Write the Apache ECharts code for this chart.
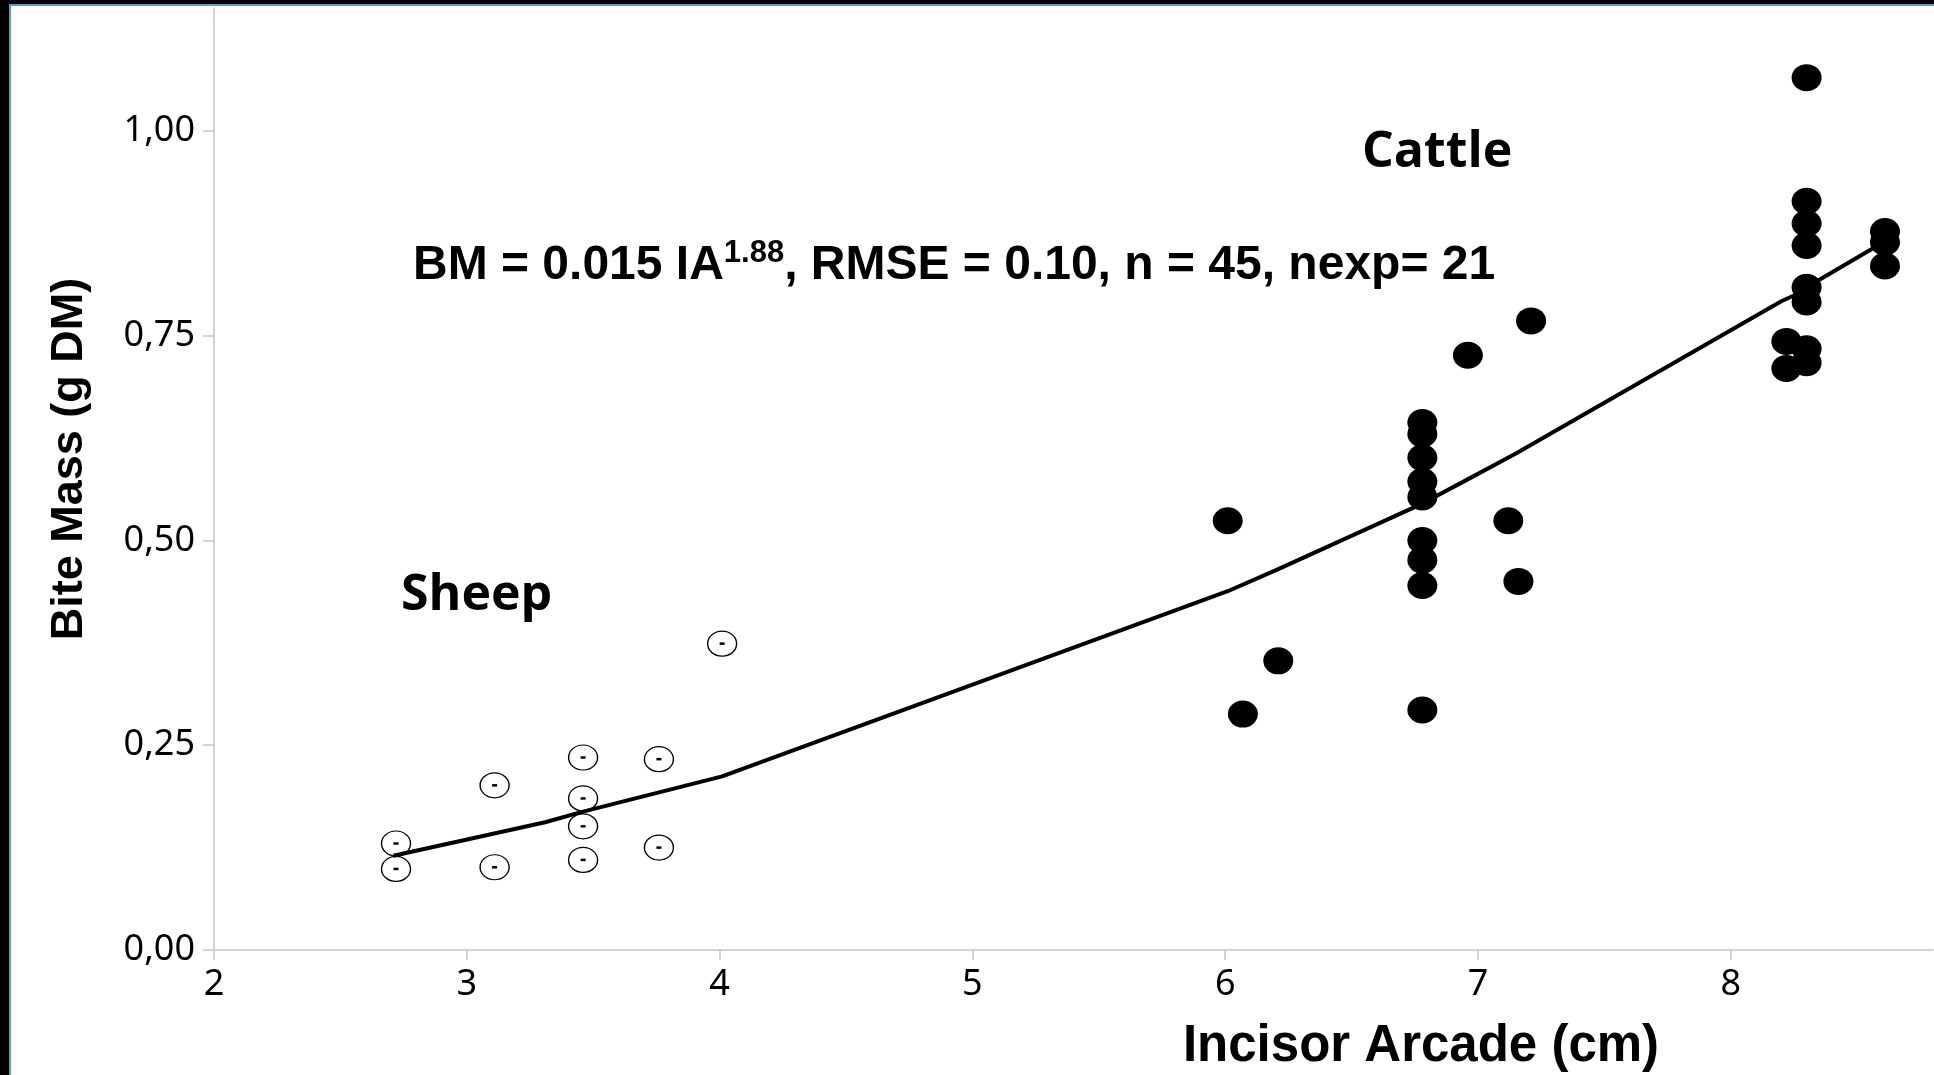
<!DOCTYPE html>
<html>
<head>
<meta charset="utf-8">
<script src="https://cdn.jsdelivr.net/npm/echarts@6/dist/echarts.min.js"></script>
<style>
  html, body { margin: 0; padding: 0; background: #ffffff; }
  #main { width: 1934px; height: 1075px; }
</style>
</head>
<body>
<div id="main"></div>
<script>
// sheep observations (open circles)
var sheepX = [2.72, 2.72, 3.11, 3.11, 3.46, 3.46, 3.46, 3.46, 3.76, 3.76, 4.01];
var sheepY = [0.130, 0.099, 0.201, 0.101, 0.235, 0.185, 0.151, 0.110, 0.233, 0.125, 0.374];

// cattle observations (filled dots)
var cattleX = [6.01, 6.07, 6.21,
  6.78, 6.78, 6.78, 6.78, 6.78, 6.78, 6.78, 6.78, 6.78,
  6.96, 7.12, 7.16, 7.21,
  8.22, 8.22,
  8.30, 8.30, 8.30, 8.30, 8.30, 8.30, 8.30, 8.30,
  8.61, 8.61, 8.61];
var cattleY = [0.524, 0.288, 0.353,
  0.644, 0.630, 0.601, 0.572, 0.553, 0.500, 0.476, 0.445, 0.293,
  0.726, 0.524, 0.450, 0.768,
  0.743, 0.710,
  1.065, 0.914, 0.887, 0.860, 0.809, 0.791, 0.734, 0.717,
  0.877, 0.864, 0.835];

// fitted line
var fitX = [2.71, 3.31, 3.46, 4.01, 6.01, 6.21, 6.78, 6.95, 7.15, 8.20, 8.25, 8.30, 8.57, 8.61];
var fitY = [0.115, 0.156, 0.169, 0.212, 0.438, 0.465, 0.545, 0.573, 0.606, 0.792, 0.799, 0.809, 0.858, 0.866];

var xTicks = [2, 3, 4, 5, 6, 7, 8];
var yTicks = [0, 0.25, 0.5, 0.75, 1];
var yTickLabels = ['0,00', '0,25', '0,50', '0,75', '1,00'];

var xTitle = 'Incisor Arcade (cm)';
var yTitle = 'Bite Mass (g DM)';

function zip(xs, ys) {
  var out = [];
  for (var i = 0; i < xs.length; i++) {
    out.push([xs[i], ys[i]]);
  }
  return out;
}

var axisGray = '#c6c6c6';
var tickFont = 'Noto Sans';
var boldFont = 'Liberation Sans';

var chart = echarts.init(document.getElementById('main'), null, { renderer: 'canvas' });

var option = {
  backgroundColor: '#ffffff',
  animation: false,
  grid: { left: 214, top: 8, right: 1, bottom: 125 },
  xAxis: {
    type: 'value',
    min: 2,
    max: 8.8,
    splitLine: { show: false },
    axisLine: { lineStyle: { color: axisGray, width: 1.5 } },
    axisTick: { show: true, length: 10, customValues: xTicks, lineStyle: { color: axisGray, width: 1.5 } },
    axisLabel: {
      customValues: xTicks,
      margin: 17,
      color: '#000000',
      fontFamily: tickFont,
      fontSize: 36
    }
  },
  yAxis: {
    type: 'value',
    min: 0,
    max: 1.15,
    splitLine: { show: false },
    axisLine: { show: true, lineStyle: { color: axisGray, width: 1.5 } },
    axisTick: { show: true, length: 11, customValues: yTicks, lineStyle: { color: axisGray, width: 1.5 } },
    axisLabel: {
      customValues: yTicks,
      margin: 19,
      color: '#000000',
      fontFamily: tickFont,
      fontSize: 36,
      formatter: function (v) {
        var i = yTicks.indexOf(v);
        return i >= 0 ? yTickLabels[i] : '';
      }
    }
  },
  series: [
    {
      name: 'Sheep',
      type: 'scatter',
      data: zip(sheepX, sheepY),
      symbol: 'circle',
      symbolSize: [29, 25],
      itemStyle: { color: '#ffffff', borderColor: '#000000', borderWidth: 1.3, opacity: 1 },
      z: 2
    },
    {
      name: 'Sheep mark',
      type: 'scatter',
      data: zip(sheepX, sheepY),
      symbol: 'rect',
      symbolSize: [5, 2.5],
      itemStyle: { color: '#000000', opacity: 1 },
      z: 3
    },
    {
      name: 'Fit',
      type: 'line',
      data: zip(fitX, fitY),
      symbol: 'none',
      smooth: false,
      lineStyle: { color: '#000000', width: 4 },
      z: 4
    },
    {
      name: 'Cattle',
      type: 'scatter',
      data: zip(cattleX, cattleY),
      symbol: 'circle',
      symbolSize: [30, 27],
      itemStyle: { color: '#000000', opacity: 1 },
      z: 5
    }
  ],
  graphic: [
    // frame: black band with a thin blue edge on the left and top
    { type: 'rect', shape: { x: 0, y: 0, width: 9, height: 1075 }, style: { fill: '#000000' }, z: 100 },
    { type: 'rect', shape: { x: 0, y: 0, width: 1934, height: 4 }, style: { fill: '#000000' }, z: 100 },
    { type: 'rect', shape: { x: 9, y: 4, width: 2, height: 1071 }, style: { fill: '#5b9bd5' }, z: 100 },
    { type: 'rect', shape: { x: 9, y: 4, width: 1925, height: 2 }, style: { fill: '#5b9bd5' }, z: 100 },
    {
      type: 'text', x: 1362, y: 153, z: 50,
      style: { text: 'Cattle', fill: '#000000', font: 'bold 50px "Open Sans"', verticalAlign: 'middle' }
    },
    {
      type: 'text', x: 401, y: 596, z: 50,
      style: { text: 'Sheep', fill: '#000000', font: 'bold 50px "Open Sans"', verticalAlign: 'middle' }
    },
    {
      type: 'text', x: 413, y: 264, z: 50,
      style: {
        text: '{m|BM = 0.015 IA}{s|1.88}{m|, RMSE = 0.10, n = 45, nexp= 21}',
        verticalAlign: 'middle',
        rich: {
          m: { fontFamily: boldFont, fontWeight: 'bold', fontSize: 48, color: '#000000', lineHeight: 52, verticalAlign: 'bottom' },
          s: { fontFamily: boldFont, fontWeight: 'bold', fontSize: 31, color: '#000000', lineHeight: 52, verticalAlign: 'top' }
        }
      }
    },
    {
      type: 'text', x: 1421, y: 1047, z: 50,
      style: { text: xTitle, fill: '#000000', font: 'bold 51px "Liberation Sans"', align: 'center', verticalAlign: 'middle' }
    },
    {
      type: 'text', x: 70, y: 459, rotation: Math.PI / 2, z: 50,
      style: { text: yTitle, fill: '#000000', font: 'bold 45px "Liberation Sans"', align: 'center', verticalAlign: 'middle' }
    }
  ]
};

chart.setOption(option);
</script>
</body>
</html>
